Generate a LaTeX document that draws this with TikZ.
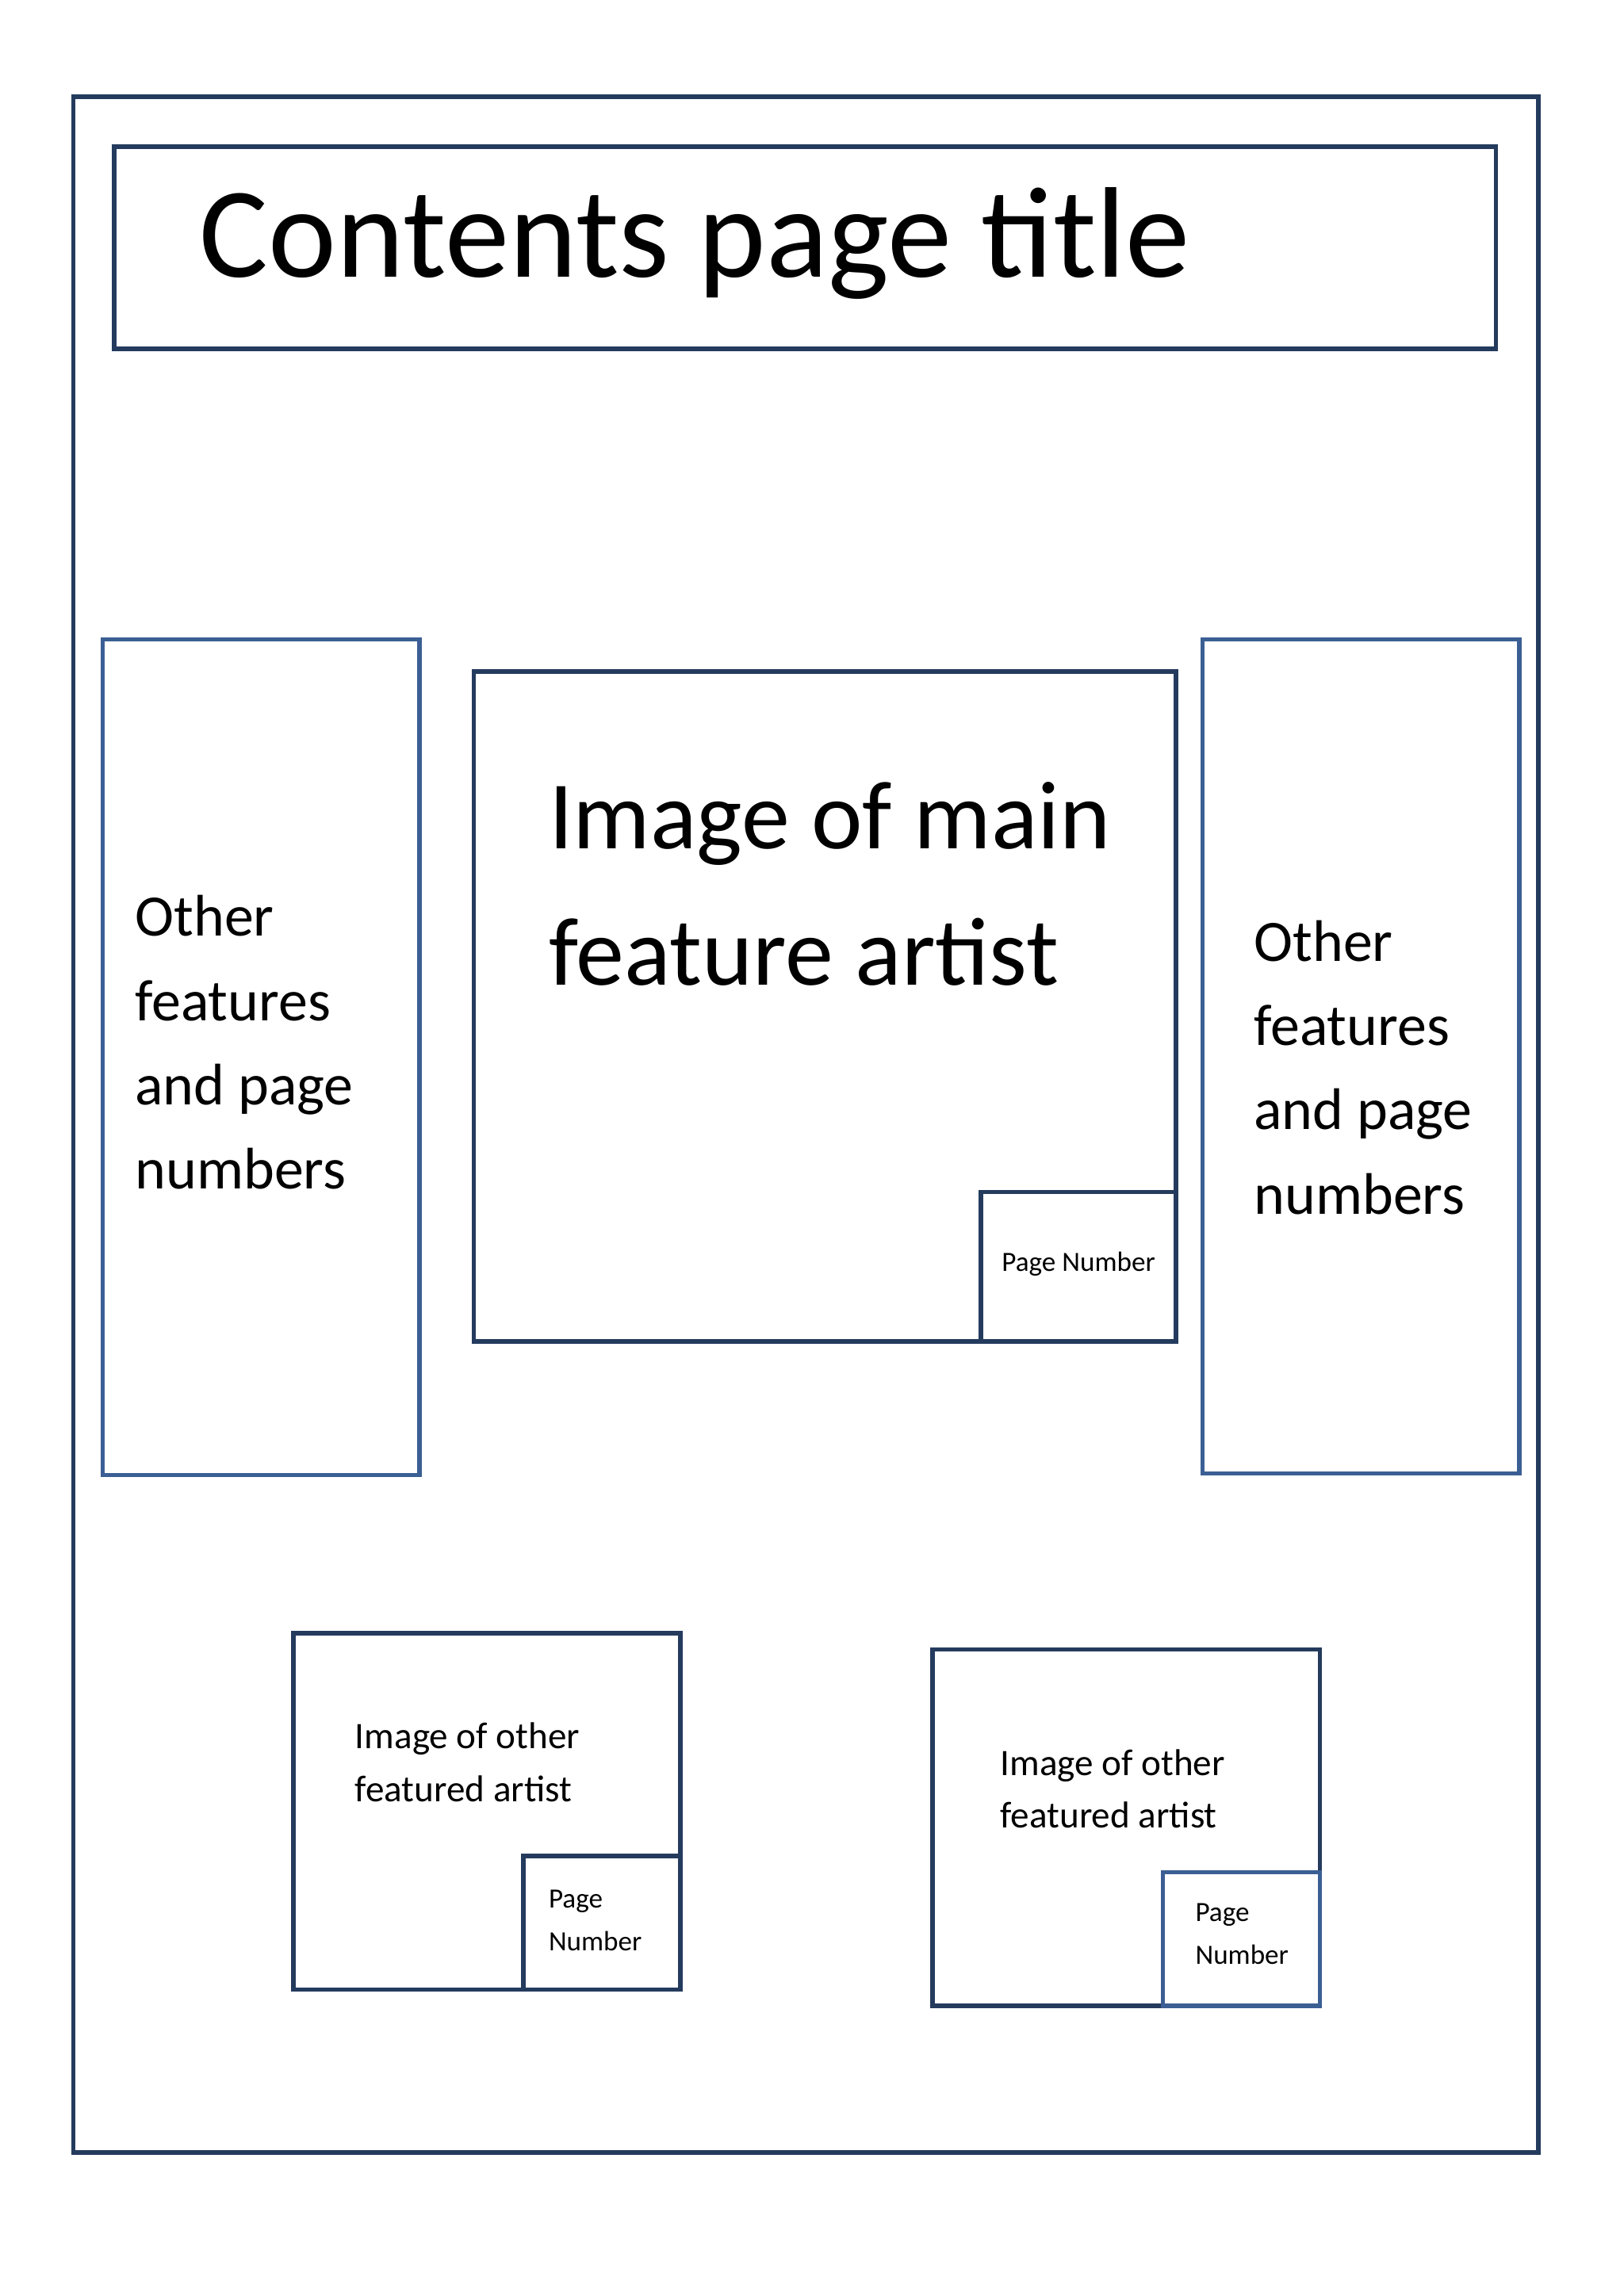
\documentclass[tikz,border=0pt]{standalone}
\usepackage{fontspec}
\setmainfont{Carlito}
\definecolor{navy}{HTML}{243B5E}
\definecolor{blu}{HTML}{3B5F94}
\begin{document}
\begin{tikzpicture}[x=1pt,y=-1pt,
  box/.style={draw=navy,line width=3pt},
  bbox/.style={draw=blu,line width=3pt},
  txt/.style={anchor=west,inner sep=0pt}]
\useasboundingbox (0,0) rectangle (1107,1566);
\draw[box] (50,66) rectangle (1049,1468);
\draw[box] (78,100) rectangle (1020,238);
\node[txt,font=\fontsize{88}{90}\selectfont] (title) at (136,166) {Contents page title};
% side boxes
\draw[bbox] (70,436) rectangle (286,1006);
\draw[bbox] (820,436) rectangle (1036,1005);
\node[txt,font=\fontsize{40}{57.5}\selectfont,align=left] (lt) at (92,711) {Other\\features\\and page\\numbers};
\node[txt,font=\fontsize{40}{57.5}\selectfont,align=left] (rt) at (855,728) {Other\\features\\and page\\numbers};
% main
\draw[box] (323,458) rectangle (802,915);
\node[txt,font=\fontsize{66}{93}\selectfont,align=left] (mt) at (374,603) {Image of main\\feature artist};
\draw[box] (669,813) rectangle (802,915);
\node[txt,font=\fontsize{19}{22}\selectfont] (pn) at (683,862) {Page Number};
% bottom left
\draw[box] (200,1114) rectangle (464,1357);
\node[txt,font=\fontsize{25.5}{36}\selectfont,align=left] (bl) at (242,1202) {Image of other\\featured artist};
\draw[box] (357,1266) rectangle (464,1357);
\node[txt,font=\fontsize{19}{29}\selectfont,align=left] (blp) at (374,1310) {Page\\Number};
% bottom right
\draw[box] (636,1125) rectangle (900,1368);
\node[txt,font=\fontsize{25.5}{36}\selectfont,align=left] (br) at (682,1220) {Image of other\\featured artist};
\draw[bbox] (793,1277) rectangle (900,1368);
\node[txt,font=\fontsize{19}{29}\selectfont,align=left] (brp) at (815,1319) {Page\\Number};
\end{tikzpicture}
\end{document}
